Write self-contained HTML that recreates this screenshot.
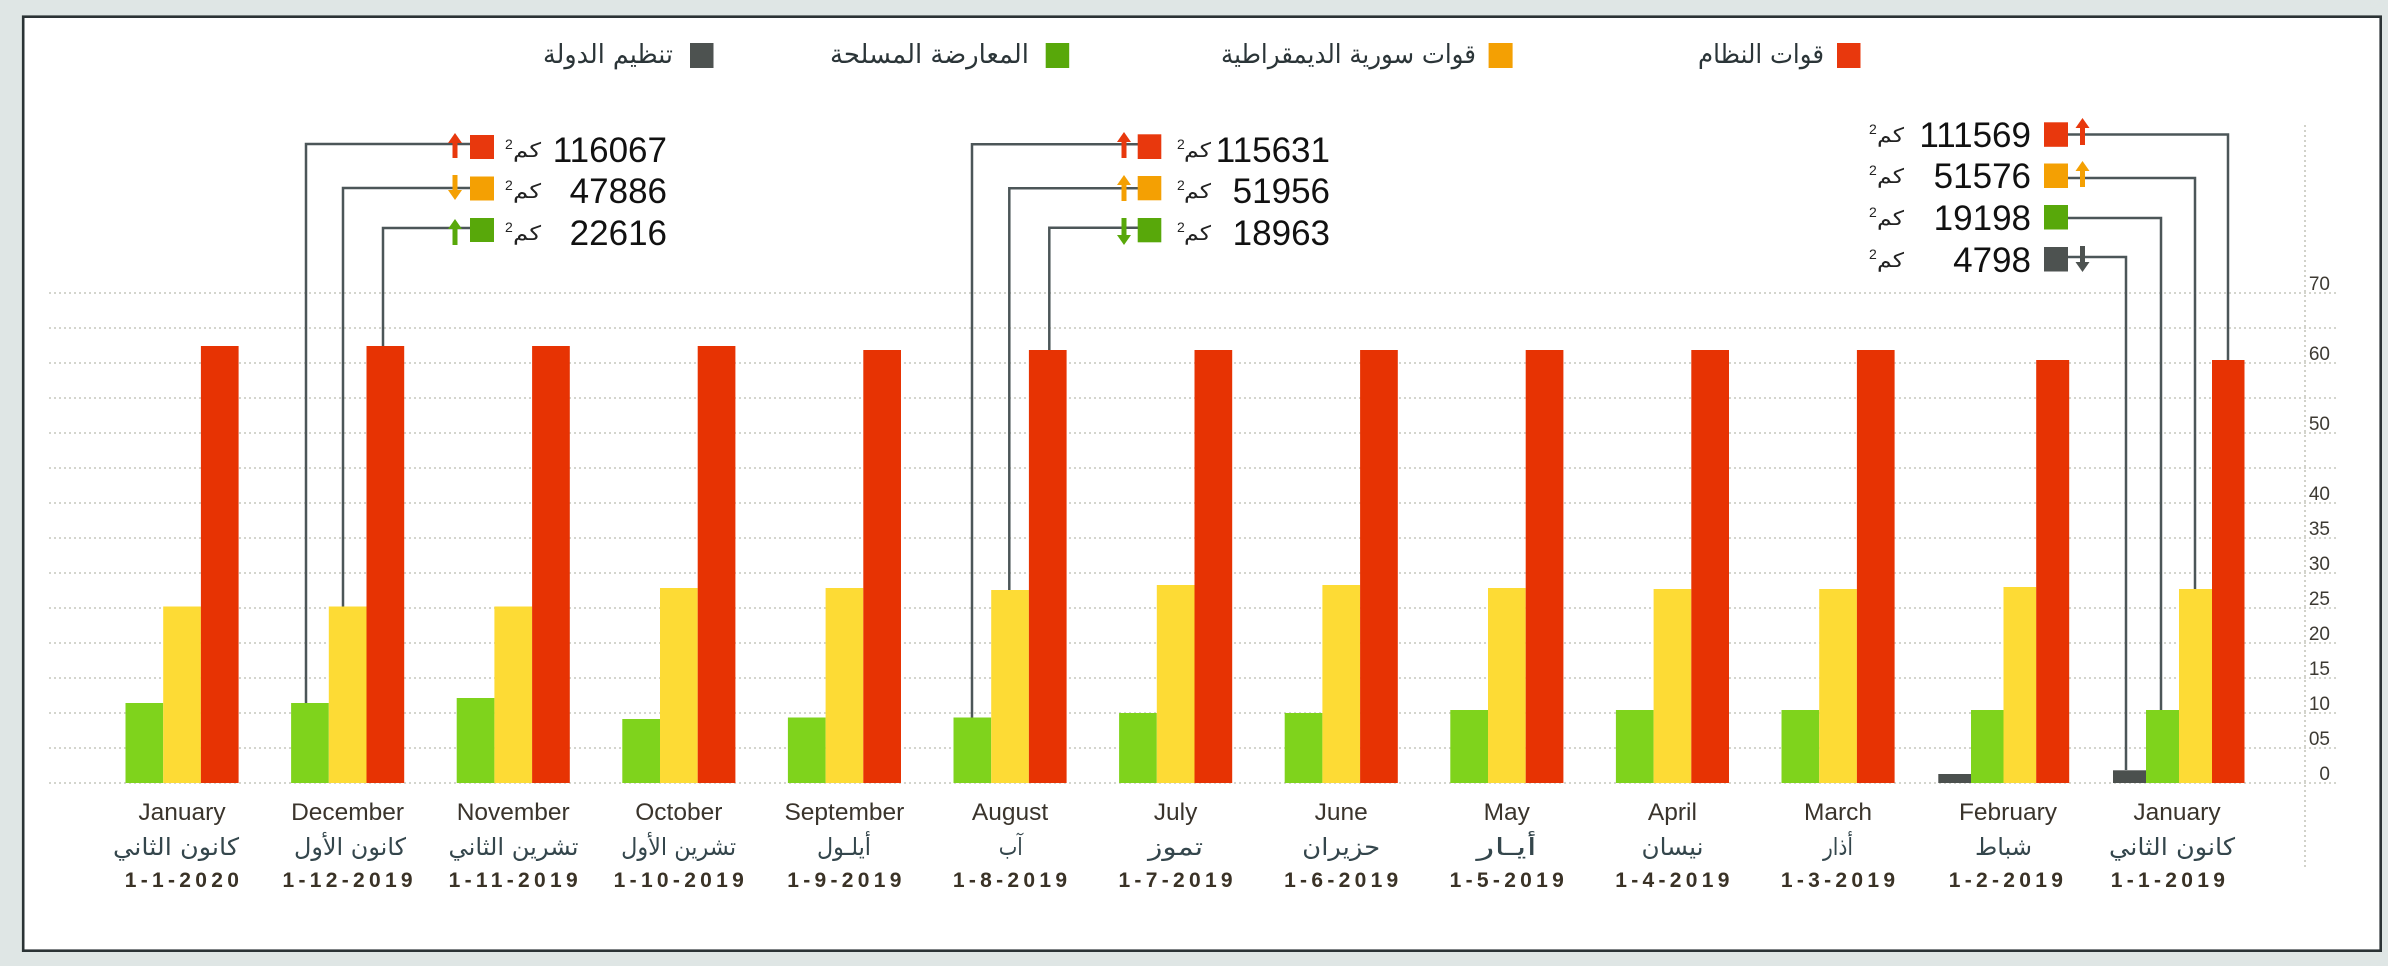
<!DOCTYPE html>
<html>
<head>
<meta charset="utf-8">
<style>
  html,body{margin:0;padding:0;background:#dfe6e5;}
  svg{display:block;}
  .ar{font-family:"DejaVu Sans","Liberation Sans",sans-serif;}
  .en{font-family:"Liberation Sans","DejaVu Sans",sans-serif;}
</style>
</head>
<body>
<svg width="2388" height="966" viewBox="0 0 2388 966" xmlns="http://www.w3.org/2000/svg">
  <rect x="0" y="0" width="2388" height="966" fill="#dfe6e5"/>
  <rect x="23.2" y="16.7" width="2357.5" height="934" fill="#ffffff" stroke="#2b3335" stroke-width="2.6"/>

  <!-- gridlines -->
  <g stroke="#c6c7bd" stroke-width="1.6" stroke-dasharray="2 3">
    <line x1="49" y1="293" x2="2338" y2="293"/>
    <line x1="49" y1="328" x2="2338" y2="328"/>
    <line x1="49" y1="363" x2="2338" y2="363"/>
    <line x1="49" y1="398" x2="2338" y2="398"/>
    <line x1="49" y1="433" x2="2338" y2="433"/>
    <line x1="49" y1="468" x2="2338" y2="468"/>
    <line x1="49" y1="503" x2="2338" y2="503"/>
    <line x1="49" y1="538" x2="2338" y2="538"/>
    <line x1="49" y1="573" x2="2338" y2="573"/>
    <line x1="49" y1="608" x2="2338" y2="608"/>
    <line x1="49" y1="643" x2="2338" y2="643"/>
    <line x1="49" y1="678" x2="2338" y2="678"/>
    <line x1="49" y1="713" x2="2338" y2="713"/>
    <line x1="49" y1="748" x2="2338" y2="748"/>
    <line x1="49" y1="783" x2="2338" y2="783"/>
    <line x1="2305" y1="125" x2="2305" y2="870"/>
  </g>

  <!-- tick labels -->
  <g class="en" font-size="19" fill="#3d3a33" text-anchor="end">
    <text x="2330" y="290">70</text>
    <text x="2330" y="360">60</text>
    <text x="2330" y="430">50</text>
    <text x="2330" y="500">40</text>
    <text x="2330" y="535">35</text>
    <text x="2330" y="570">30</text>
    <text x="2330" y="605">25</text>
    <text x="2330" y="640">20</text>
    <text x="2330" y="675">15</text>
    <text x="2330" y="710">10</text>
    <text x="2330" y="745">05</text>
    <text x="2330" y="780">0</text>
  </g>

  <!-- connector lines -->
  <g fill="none" stroke="#4c5658" stroke-width="2.5">
    <polyline points="470,144 306,144 306,703"/>
    <polyline points="470,188 343,188 343,606.5"/>
    <polyline points="470,228 383,228 383,346"/>
    <polyline points="1138,144.3 972,144.3 972,717.5"/>
    <polyline points="1138,188.3 1009.3,188.3 1009.3,590"/>
    <polyline points="1138,227.7 1049.3,227.7 1049.3,350"/>
    <polyline points="2068,134.5 2228,134.5 2228,360"/>
    <polyline points="2068,178 2195,178 2195,589"/>
    <polyline points="2068,218 2161,218 2161,710"/>
    <polyline points="2068,257 2126,257 2126,770"/>
  </g>

  <!-- bars -->
  <g>
    <!-- 1 Jan 2020 -->
    <rect x="125.5" y="703" width="37.7" height="80" fill="#7fd31c"/>
    <rect x="163.2" y="606.5" width="37.7" height="176.5" fill="#fddb35"/>
    <rect x="200.9" y="346" width="37.7" height="437" fill="#e73303"/>
    <!-- 2 Dec -->
    <rect x="291.1" y="703" width="37.7" height="80" fill="#7fd31c"/>
    <rect x="328.8" y="606.5" width="37.7" height="176.5" fill="#fddb35"/>
    <rect x="366.5" y="346" width="37.7" height="437" fill="#e73303"/>
    <!-- 3 Nov -->
    <rect x="456.7" y="698" width="37.7" height="85" fill="#7fd31c"/>
    <rect x="494.4" y="606.5" width="37.7" height="176.5" fill="#fddb35"/>
    <rect x="532.1" y="346" width="37.7" height="437" fill="#e73303"/>
    <!-- 4 Oct -->
    <rect x="622.3" y="719" width="37.7" height="64" fill="#7fd31c"/>
    <rect x="660" y="588" width="37.7" height="195" fill="#fddb35"/>
    <rect x="697.7" y="346" width="37.7" height="437" fill="#e73303"/>
    <!-- 5 Sep -->
    <rect x="787.9" y="717.5" width="37.7" height="65.5" fill="#7fd31c"/>
    <rect x="825.6" y="588" width="37.7" height="195" fill="#fddb35"/>
    <rect x="863.3" y="350" width="37.7" height="433" fill="#e73303"/>
    <!-- 6 Aug -->
    <rect x="953.5" y="717.5" width="37.7" height="65.5" fill="#7fd31c"/>
    <rect x="991.2" y="590" width="37.7" height="193" fill="#fddb35"/>
    <rect x="1028.9" y="350" width="37.7" height="433" fill="#e73303"/>
    <!-- 7 Jul -->
    <rect x="1119.1" y="713" width="37.7" height="70" fill="#7fd31c"/>
    <rect x="1156.8" y="585" width="37.7" height="198" fill="#fddb35"/>
    <rect x="1194.5" y="350" width="37.7" height="433" fill="#e73303"/>
    <!-- 8 Jun -->
    <rect x="1284.7" y="713" width="37.7" height="70" fill="#7fd31c"/>
    <rect x="1322.4" y="585" width="37.7" height="198" fill="#fddb35"/>
    <rect x="1360.1" y="350" width="37.7" height="433" fill="#e73303"/>
    <!-- 9 May -->
    <rect x="1450.3" y="710" width="37.7" height="73" fill="#7fd31c"/>
    <rect x="1488" y="588" width="37.7" height="195" fill="#fddb35"/>
    <rect x="1525.7" y="350" width="37.7" height="433" fill="#e73303"/>
    <!-- 10 Apr -->
    <rect x="1615.9" y="710" width="37.7" height="73" fill="#7fd31c"/>
    <rect x="1653.6" y="589" width="37.7" height="194" fill="#fddb35"/>
    <rect x="1691.3" y="350" width="37.7" height="433" fill="#e73303"/>
    <!-- 11 Mar -->
    <rect x="1781.5" y="710" width="37.7" height="73" fill="#7fd31c"/>
    <rect x="1819.2" y="589" width="37.7" height="194" fill="#fddb35"/>
    <rect x="1856.9" y="350" width="37.7" height="433" fill="#e73303"/>
    <!-- 12 Feb -->
    <rect x="1938.3" y="774" width="32.75" height="9" fill="#4b504e"/>
    <rect x="1971" y="710" width="32.75" height="73" fill="#7fd31c"/>
    <rect x="2003.5" y="587" width="32.75" height="196" fill="#fddb35"/>
    <rect x="2036.2" y="360" width="33" height="423" fill="#e73303"/>
    <!-- 13 Jan 2019 -->
    <rect x="2113" y="770.3" width="33" height="12.7" fill="#4b504e"/>
    <rect x="2146" y="710" width="33" height="73" fill="#7fd31c"/>
    <rect x="2179" y="589" width="33" height="194" fill="#fddb35"/>
    <rect x="2212" y="360" width="32.5" height="423" fill="#e73303"/>
  </g>

  <!-- legend -->
  <rect x="1837" y="43" width="23.5" height="25" fill="#e8380d"/>
  <text class="ar" x="1698" y="63" font-size="26" fill="#2b3538" textLength="126" lengthAdjust="spacingAndGlyphs">قوات النظام</text>
  <rect x="1488.6" y="43" width="24" height="25" fill="#f4a003"/>
  <text class="ar" x="1221" y="63" font-size="26" fill="#2b3538" textLength="255" lengthAdjust="spacingAndGlyphs">قوات سورية الديمقراطية</text>
  <rect x="1045.7" y="43" width="23.5" height="25" fill="#58a80a"/>
  <text class="ar" x="830" y="63" font-size="26" fill="#2b3538" textLength="199" lengthAdjust="spacingAndGlyphs">المعارضة المسلحة</text>
  <rect x="690" y="43" width="23.5" height="25" fill="#4d5250"/>
  <text class="ar" x="543" y="63" font-size="26" fill="#2b3538" textLength="130" lengthAdjust="spacingAndGlyphs">تنظيم الدولة</text>

  <!-- annotation squares -->
  <rect x="470" y="135" width="24" height="24" fill="#e8380d"/>
  <rect x="470" y="176.5" width="24" height="24" fill="#f4a003"/>
  <rect x="470" y="218" width="24" height="24" fill="#58a80a"/>
  <rect x="1137.7" y="134.3" width="23.6" height="24.7" fill="#e8380d"/>
  <rect x="1137.7" y="176" width="23.6" height="24.3" fill="#f4a003"/>
  <rect x="1137.7" y="218" width="23.6" height="24.3" fill="#58a80a"/>
  <rect x="2044" y="122.3" width="24" height="24.5" fill="#e8380d"/>
  <rect x="2044" y="163.5" width="24" height="24.5" fill="#f4a003"/>
  <rect x="2044" y="205" width="24" height="24.5" fill="#58a80a"/>
  <rect x="2044" y="247" width="24" height="24.5" fill="#4d5250"/>

  <!-- arrows -->
  <polygon points="455,133 462,143 457.5,143 457.5,158 452.5,158 452.5,143 448,143" fill="#e8380d"/>
  <polygon points="455,200 462,190 457.5,190 457.5,175 452.5,175 452.5,190 448,190" fill="#f4a003"/>
  <polygon points="455,219 462,229 457.5,229 457.5,245 452.5,245 452.5,229 448,229" fill="#58a80a"/>
  <polygon points="1124,132 1131,142 1126.5,142 1126.5,158 1121.5,158 1121.5,142 1117,142" fill="#e8380d"/>
  <polygon points="1124,175 1131,185 1126.5,185 1126.5,201 1121.5,201 1121.5,185 1117,185" fill="#f4a003"/>
  <polygon points="1124,245 1131,235 1126.5,235 1126.5,218 1121.5,218 1121.5,235 1117,235" fill="#58a80a"/>
  <polygon points="2082.5,118 2089.5,128 2085,128 2085,145 2080,145 2080,128 2075.5,128" fill="#e8380d"/>
  <polygon points="2082.5,161 2089.5,171 2085,171 2085,187 2080,187 2080,171 2075.5,171" fill="#f4a003"/>
  <polygon points="2082.5,272 2089.5,262 2085,262 2085,246 2080,246 2080,262 2075.5,262" fill="#4d5250"/>

  <!-- annotation numbers -->
  <g class="en" font-size="35" fill="#111111" text-anchor="end">
    <text x="667" y="162">116067</text>
    <text x="667" y="203">47886</text>
    <text x="667" y="245">22616</text>
    <text x="1330" y="162">115631</text>
    <text x="1330" y="203">51956</text>
    <text x="1330" y="245">18963</text>
    <text x="2031" y="147">111569</text>
    <text x="2031" y="188">51576</text>
    <text x="2031" y="230">19198</text>
    <text x="2031" y="272">4798</text>
  </g>

  <!-- units -->
  <g fill="#222222">
    <text class="en" x="505" y="149" font-size="14">2</text>
    <text class="ar" x="513" y="157" font-size="20" textLength="28" lengthAdjust="spacingAndGlyphs">كم</text>
    <text class="en" x="505" y="190" font-size="14">2</text>
    <text class="ar" x="513" y="198" font-size="20" textLength="28" lengthAdjust="spacingAndGlyphs">كم</text>
    <text class="en" x="505" y="232" font-size="14">2</text>
    <text class="ar" x="513" y="240" font-size="20" textLength="28" lengthAdjust="spacingAndGlyphs">كم</text>

    <text class="en" x="1177" y="149" font-size="14">2</text>
    <text class="ar" x="1184" y="157" font-size="20" textLength="27" lengthAdjust="spacingAndGlyphs">كم</text>
    <text class="en" x="1177" y="190" font-size="14">2</text>
    <text class="ar" x="1184" y="198" font-size="20" textLength="27" lengthAdjust="spacingAndGlyphs">كم</text>
    <text class="en" x="1177" y="232" font-size="14">2</text>
    <text class="ar" x="1184" y="240" font-size="20" textLength="27" lengthAdjust="spacingAndGlyphs">كم</text>

    <text class="en" x="1869" y="134" font-size="14">2</text>
    <text class="ar" x="1877" y="142" font-size="20" textLength="27" lengthAdjust="spacingAndGlyphs">كم</text>
    <text class="en" x="1869" y="175" font-size="14">2</text>
    <text class="ar" x="1877" y="183" font-size="20" textLength="27" lengthAdjust="spacingAndGlyphs">كم</text>
    <text class="en" x="1869" y="217" font-size="14">2</text>
    <text class="ar" x="1877" y="225" font-size="20" textLength="27" lengthAdjust="spacingAndGlyphs">كم</text>
    <text class="en" x="1869" y="259" font-size="14">2</text>
    <text class="ar" x="1877" y="267" font-size="20" textLength="27" lengthAdjust="spacingAndGlyphs">كم</text>
  </g>

  <!-- English month labels -->
  <g class="en" font-size="24.5" fill="#3a342c" text-anchor="middle">
    <text x="182" y="820">January</text>
    <text x="347.6" y="820">December</text>
    <text x="513.2" y="820">November</text>
    <text x="678.8" y="820">October</text>
    <text x="844.4" y="820">September</text>
    <text x="1010" y="820">August</text>
    <text x="1175.6" y="820">July</text>
    <text x="1341.2" y="820">June</text>
    <text x="1506.8" y="820">May</text>
    <text x="1672.4" y="820">April</text>
    <text x="1838" y="820">March</text>
    <text x="2008" y="820">February</text>
    <text x="2177" y="820">January</text>
  </g>

  <!-- Arabic month labels -->
  <g class="ar" font-size="24" fill="#34464c" text-anchor="middle">
    <text x="176" y="855" textLength="126" lengthAdjust="spacingAndGlyphs">كانون الثاني</text>
    <text x="350" y="855" textLength="112" lengthAdjust="spacingAndGlyphs">كانون الأول</text>
    <text x="513.5" y="855" textLength="130" lengthAdjust="spacingAndGlyphs">تشرين الثاني</text>
    <text x="678.6" y="855" textLength="115" lengthAdjust="spacingAndGlyphs">تشرين الأول</text>
    <text x="844" y="855" textLength="54" lengthAdjust="spacingAndGlyphs">أيلـول</text>
    <text x="1010.7" y="855" textLength="24" lengthAdjust="spacingAndGlyphs">آب</text>
    <text x="1175.6" y="855" textLength="55" lengthAdjust="spacingAndGlyphs">تموز</text>
    <text x="1341.2" y="855" textLength="78" lengthAdjust="spacingAndGlyphs">حزيران</text>
    <text x="1506.8" y="855" textLength="60" lengthAdjust="spacingAndGlyphs">أيـار</text>
    <text x="1672.5" y="855" textLength="62" lengthAdjust="spacingAndGlyphs">نيسان</text>
    <text x="1838" y="855" textLength="30" lengthAdjust="spacingAndGlyphs">أذار</text>
    <text x="2003.5" y="855" textLength="57" lengthAdjust="spacingAndGlyphs">شباط</text>
    <text x="2172" y="855" textLength="126" lengthAdjust="spacingAndGlyphs">كانون الثاني</text>
  </g>

  <!-- dates -->
  <g class="en" font-size="21" font-weight="bold" fill="#3a3226" text-anchor="middle" letter-spacing="4.3">
    <text x="184" y="887">1-1-2020</text>
    <text x="349.7" y="887">1-12-2019</text>
    <text x="515.3" y="887">1-11-2019</text>
    <text x="680.9" y="887">1-10-2019</text>
    <text x="846.5" y="887">1-9-2019</text>
    <text x="1012.1" y="887">1-8-2019</text>
    <text x="1177.7" y="887">1-7-2019</text>
    <text x="1343.3" y="887">1-6-2019</text>
    <text x="1508.9" y="887">1-5-2019</text>
    <text x="1674.5" y="887">1-4-2019</text>
    <text x="1840.1" y="887">1-3-2019</text>
    <text x="2008" y="887">1-2-2019</text>
    <text x="2170" y="887">1-1-2019</text>
  </g>
</svg>
</body>
</html>
